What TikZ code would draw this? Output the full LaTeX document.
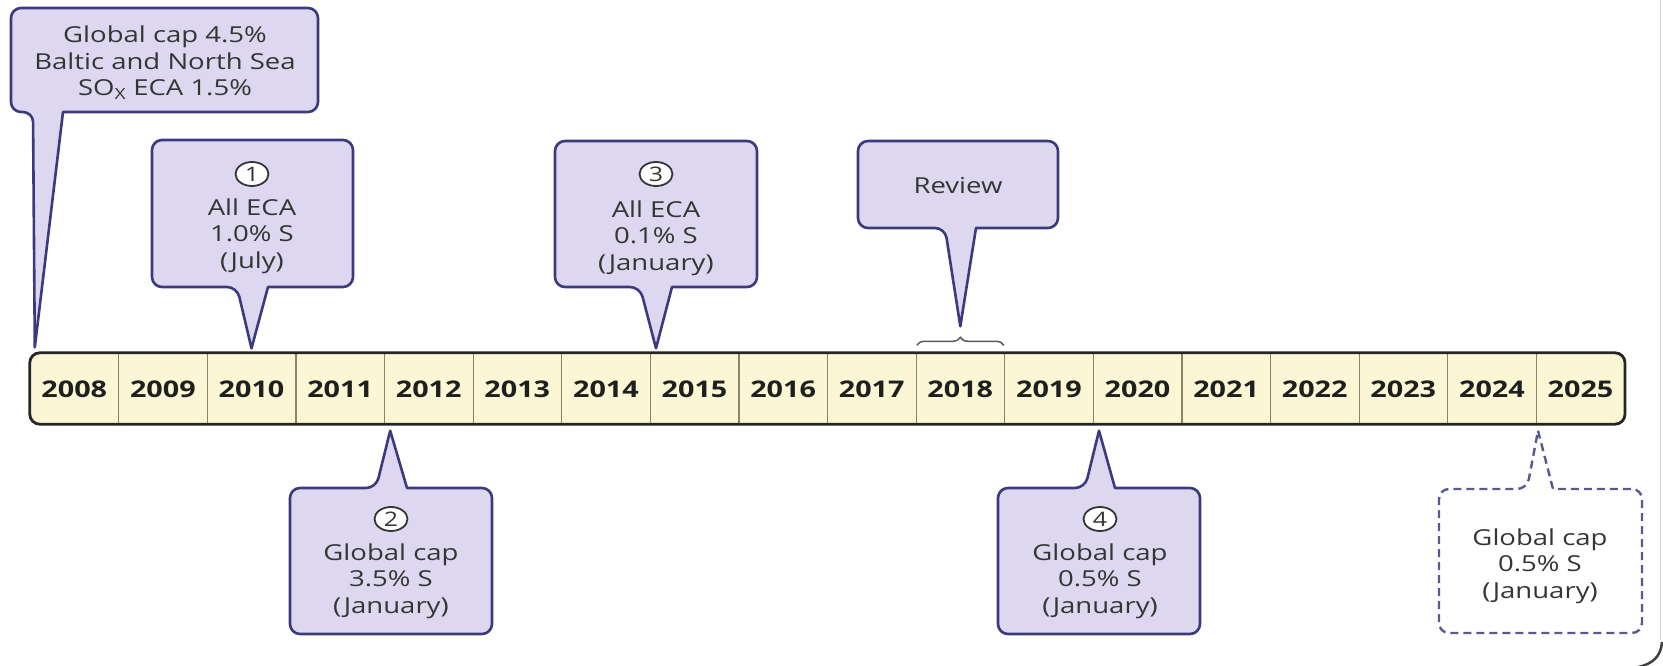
\documentclass[tikz,border=0pt]{standalone}
\usepackage{fontspec}
\setmainfont{Open Sans}[FakeStretch=1.25]
\usetikzlibrary{decorations.pathreplacing,shapes.geometric,calc}
\definecolor{boxfill}{HTML}{DDD8EF}
\definecolor{boxline}{HTML}{3C3A7E}
\definecolor{barfill}{HTML}{FBF7D5}
\definecolor{txt}{HTML}{353535}
\definecolor{divcol}{HTML}{8C8466}
\begin{document}
\begin{tikzpicture}[x=1pt,y=-1pt,
  callout/.style={fill=boxfill,draw=boxline,line width=2.6pt,line join=round},
  dashcall/.style={fill=white,draw=boxline!85,line width=2.4pt,line join=round,dash pattern=on 8pt off 5pt},
  lbl/.style={text=txt,font=\fontsize{22}{26.5}\selectfont,align=center,inner sep=0pt},
  num/.style={ellipse,draw=txt,fill=white,line width=1.8pt,minimum width=33pt,minimum height=24pt,inner sep=0pt,text=txt,font=\fontsize{20}{20}\selectfont},
  yearcell/.style={rectangle,minimum width=88.6pt,minimum height=71pt,inner sep=0pt,text=black!88,font=\bfseries\fontsize{23}{23}\selectfont},
  barbox/.style={rectangle,rounded corners=10pt,fill=barfill,minimum width=1594.8pt,minimum height=71pt,inner sep=0pt},
  divider/.style={draw=divcol,line width=1.2pt},
  bracestyle/.style={draw=black!65,line width=1.5pt,decorate,decoration={brace,amplitude=8pt}}
]
\useasboundingbox (0,0) rectangle (1663,666);
% frame remnants
\draw[black!18,line width=1pt] (1660.5,0) -- (1660.5,640);
\draw[black!75,line width=2.5pt] (1662,642) .. controls (1661,656) and (1653,664) .. (1638,667);

% timeline bar
\node[barbox] (bar) at (827.4,388.5) {};
\foreach \i in {0,...,17} {
  \pgfmathtruncatemacro\yr{2008+\i}
  \node[yearcell] (y\yr) at ({30+(\i+0.5)*88.6},389) {\yr};
}
\foreach \yr in {2008,...,2024} {
  \draw[divider] ($(y\yr.north east)+(0,0.5)$) -- ($(y\yr.south east)+(0,-1.5)$);
}
\draw[draw=black!85,line width=2.8pt,rounded corners=10pt] (bar.north west) rectangle (bar.south east);

% pointer tips
\coordinate (t0) at ($(y2008.north west)+(5,-6)$);
\coordinate (t1) at ($(y2010.north)+(0,-5)$);
\coordinate (t3) at ($(y2015.north west)+(6,-5)$);
\coordinate (tR) at ($(y2018.north)+(0,-27)$);
\coordinate (t2) at ($(y2012.south west)+(6,6)$);
\coordinate (t4) at ($(y2020.south west)+(6,6)$);
\coordinate (t5) at ($(y2025.south west)+(2,6)$);

% callouts above
\path[callout] (t0) -- (63,112) [rounded corners=10pt] -- (318,112) -- (318,8) -- (11,8) -- (11,112) -- (33,112) [sharp corners] -- cycle;
\path[callout] (t1) -- (268,287) [rounded corners=10pt] -- (353,287) -- (353,140) -- (152,140) -- (152,287) -- (237,287) [sharp corners] -- cycle;
\path[callout] (t3) -- (672,287) [rounded corners=10pt] -- (757,287) -- (757,141) -- (555,141) -- (555,287) -- (640,287) [sharp corners] -- cycle;
\path[callout] (tR) -- (976,228) [rounded corners=10pt] -- (1058,228) -- (1058,141) -- (858,141) -- (858,228) -- (945,228) [sharp corners] -- cycle;
% callouts below
\path[callout] (t2) -- (407,488) [rounded corners=10pt] -- (492,488) -- (492,634) -- (290,634) -- (290,488) -- (376,488) [sharp corners] -- cycle;
\path[callout] (t4) -- (1115,488) [rounded corners=10pt] -- (1200,488) -- (1200,634) -- (998,634) -- (998,488) -- (1085,488) [sharp corners] -- cycle;
\path[dashcall] (t5) -- (1553,489) [rounded corners=10pt] -- (1642,489) -- (1642,633) -- (1439,633) -- (1439,489) -- (1527,489) [sharp corners] -- cycle;

% brace
\coordinate (brL) at ($(y2018.north west)+(1,-8)$);
\coordinate (brR) at ($(y2018.north east)+(-1,-8)$);
\draw[bracestyle] (brL) -- (brR);

% texts
\node[lbl] (n0) at (165,63) {Global cap 4.5\%\\Baltic and North Sea\\SO\textsubscript{X} ECA 1.5\%};
\node[num] (c1) at (252,174) {1};
\node[lbl] (n1) at (252,236) {All ECA\\1.0\% S\\(July)};
\node[num] (c3) at (656,174) {3};
\node[lbl] (n3) at (656,238) {All ECA\\0.1\% S\\(January)};
\node[lbl] (nR) at (958,186) {Review};
\node[num] (c2) at (391,519) {2};
\node[lbl] (n2) at (391,581) {Global cap\\3.5\% S\\(January)};
\node[num] (c4) at (1100,519) {4};
\node[lbl] (n4) at (1100,581) {Global cap\\0.5\% S\\(January)};
\node[lbl] (n5) at (1540,566) {Global cap\\0.5\% S\\(January)};
\end{tikzpicture}
\end{document}
